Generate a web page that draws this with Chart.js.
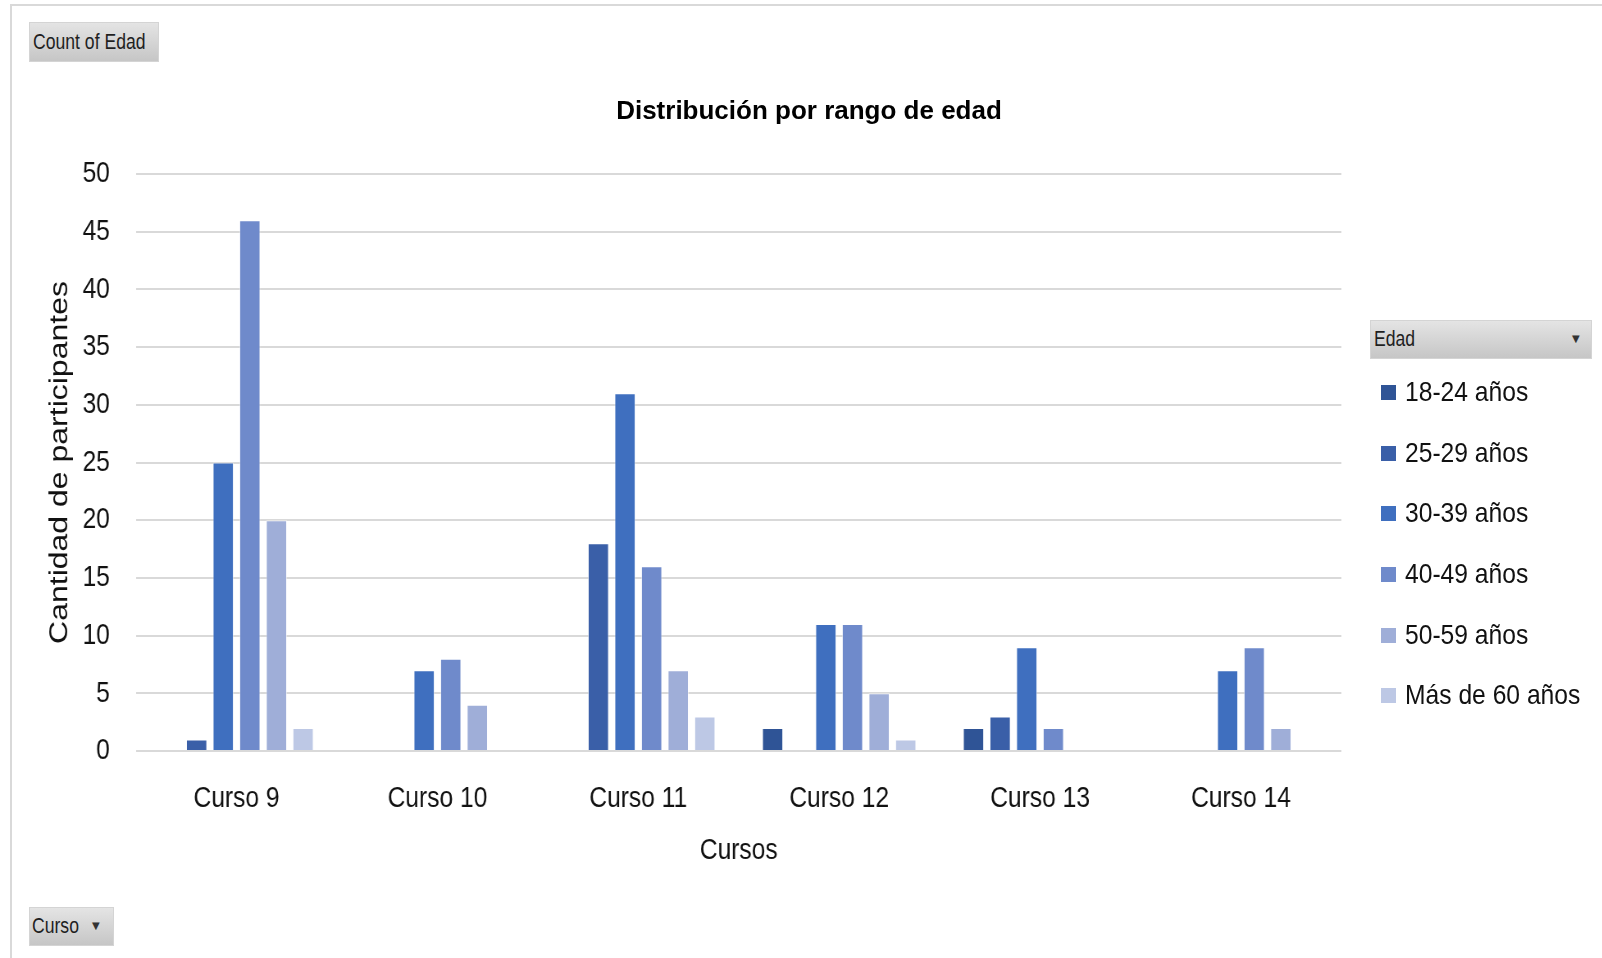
<!DOCTYPE html>
<html>
<head>
<meta charset="utf-8">
<script src="https://cdn.jsdelivr.net/npm/chart.js"></script>
<style>
  body { margin: 0; width: 1602px; height: 958px; overflow: hidden; background: #fff; position: relative; }
  #frame { position: absolute; left: 10px; top: 4px; width: 1700px; height: 1100px;
           border-top: 2px solid #d9d9d9; border-left: 2px solid #d9d9d9; }
  /* el lienzo se dibuja mas ancho y se comprime en horizontal, como la captura original */
  #c { position: absolute; left: 0; top: 0; transform: scaleX(0.8199); transform-origin: 0 0; }
  .btn { position: absolute; box-sizing: border-box; background: linear-gradient(#e4e4e4, #c6c6c6);
         border: 1px solid #d4d4d4; }
  .txt { position: absolute; font-family: "Liberation Sans", Arial, sans-serif; font-size: 22px; color: #1f1f1f;
         white-space: nowrap; transform: scaleX(0.8); transform-origin: 0 50%; line-height: 26px; }
  .arrow { position: absolute; font-family: "DejaVu Sans", sans-serif; font-size: 10px; color: #333; line-height: 12px; }
  #title { position: absolute; left: 0; width: 1618px; top: 95px; text-align: center;
           font-family: "Liberation Sans", Arial, sans-serif; font-weight: bold; font-size: 26px; color: #000; }
  #legend { position: absolute; left: 1381px; top: 362px; }
  .item { height: 60.7px; position: relative; }
  .box { position: absolute; left: 0; top: 23px; width: 15px; height: 15px; }
  .lbl { position: absolute; left: 24px; top: 13px; font-family: "Liberation Sans", Arial, sans-serif; font-size: 28px;
         line-height: 34px; color: #111; white-space: nowrap; transform: scaleX(0.88); transform-origin: 0 50%; }
</style>
</head>
<body>
<div id="frame"></div>
<canvas id="c" width="1954" height="958"></canvas>
<div class="btn" style="left:29px;top:22px;width:130px;height:40px;"></div>
<div class="txt" style="left:33px;top:29px;">Count of Edad</div>
<div class="btn" style="left:29px;top:907px;width:85px;height:39px;"></div>
<div class="txt" style="left:32px;top:913px;">Curso</div>
<div class="arrow" style="left:92px;top:920px;">&#9660;</div>
<div class="btn" style="left:1370px;top:320px;width:222px;height:39px;"></div>
<div class="txt" style="left:1374px;top:326px;">Edad</div>
<div class="arrow" style="left:1572px;top:333px;">&#9660;</div>
<div id="title">Distribución por rango de edad</div>
<div id="legend"></div>
<script>
// categorias y series (null = sin participantes)
const cursos = ['Curso 9', 'Curso 10', 'Curso 11', 'Curso 12', 'Curso 13', 'Curso 14'];
const rangos = ['18-24 años', '25-29 años', '30-39 años', '40-49 años', '50-59 años', 'Más de 60 años'];
const colores = ['#2f5496', '#3a5fa8', '#3f6fbf', '#6f8acb', '#9faed8', '#bdc8e5'];

const edad18a24 = [null, null, null, 2, 2, null];
const edad25a29 = [1, null, 18, null, 3, null];
const edad30a39 = [25, 7, 31, 11, 9, 7];
const edad40a49 = [46, 8, 16, 11, 2, 9];
const edad50a59 = [20, 4, 7, 5, null, 2];
const edad60mas = [2, null, 3, 1, null, null];

const series = [edad18a24, edad25a29, edad30a39, edad40a49, edad50a59, edad60mas];

const sans = '"Liberation Sans", Arial, sans-serif';

const datasets = series.map((data, i) => ({
  label: rangos[i],
  data: data,
  backgroundColor: colores[i],
  borderColor: 'rgba(255,255,255,0.55)',
  borderWidth: 1,
  categoryPercentage: 0.795,
  barPercentage: 0.79
}));

const chart = new Chart(document.getElementById('c').getContext('2d'), {
  type: 'bar',
  data: { labels: cursos, datasets: datasets },
  options: {
    responsive: false,
    animation: false,
    layout: { padding: { left: 30, right: 318, top: 174, bottom: 50 } },
    plugins: {
      legend: { display: false },
      title: { display: false },
      tooltip: { enabled: false }
    },
    scales: {
      x: {
        grid: { display: false },
        border: { display: false },
        ticks: { color: '#111', padding: 22, font: { family: sans, size: 30 } },
        title: { display: true, text: 'Cursos', color: '#111', padding: { top: 0, bottom: 39 },
                 font: { family: sans, size: 30 } },
        afterFit: s => { s.height = 157; }
      },
      y: {
        min: 0, max: 50,
        grid: { color: '#d9d9d9', lineWidth: 2, drawTicks: false },
        border: { display: false },
        ticks: { stepSize: 5, color: '#111', padding: 32, font: { family: sans, size: 30 } },
        title: { display: true, text: 'Cantidad de participantes', color: '#111', padding: { top: 24, bottom: 0 },
                 font: { family: sans, size: 32 } },
        afterFit: s => { s.width = 136; }
      }
    }
  }
});

// leyenda HTML a partir de los datasets
const legend = document.getElementById('legend');
chart.data.datasets.forEach(ds => {
  const row = document.createElement('div');
  row.className = 'item';
  const box = document.createElement('div');
  box.className = 'box';
  box.style.background = ds.backgroundColor;
  const lbl = document.createElement('div');
  lbl.className = 'lbl';
  lbl.textContent = ds.label;
  row.appendChild(box);
  row.appendChild(lbl);
  legend.appendChild(row);
});
</script>
</body>
</html>
